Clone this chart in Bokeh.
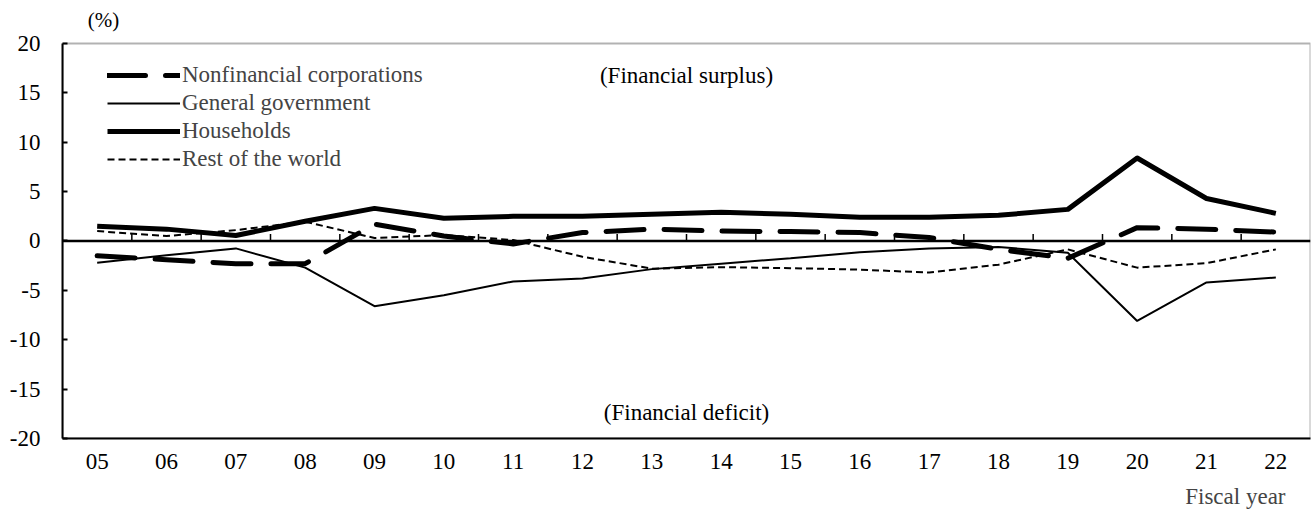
from bokeh.plotting import figure
from bokeh.models import (Range1d, FixedTicker, Legend, LegendItem, Label, Title, Span,
                          BoxAnnotation)
from bokeh.embed import file_html
from bokeh.resources import INLINE

years = ["05", "06", "07", "08", "09", "10", "11", "12", "13", "14",
         "15", "16", "17", "18", "19", "20", "21", "22"]
nonfin = [-1.5, -1.9, -2.3, -2.3, 1.7, 0.5, -0.3, 0.85, 1.2, 1.0,
          0.95, 0.85, 0.35, -0.85, -1.75, 1.35, 1.2, 0.9]
gov = [-2.2, -1.45, -0.75, -2.7, -6.6, -5.5, -4.1, -3.8, -2.85, -2.3,
       -1.75, -1.15, -0.75, -0.6, -1.2, -8.1, -4.2, -3.7]
hh = [1.5, 1.2, 0.55, 2.0, 3.3, 2.3, 2.5, 2.5, 2.7, 2.9,
      2.7, 2.4, 2.4, 2.6, 3.2, 8.4, 4.3, 2.8]
row = [1.0, 0.5, 1.1, 1.95, 0.3, 0.6, 0.1, -1.6, -2.8, -2.65,
       -2.75, -2.9, -3.2, -2.4, -0.85, -2.7, -2.25, -0.85]
y_ticks = [-20, -15, -10, -5, 0, 5, 10, 15, 20]

FONT = "Liberation Serif"
FS = "23px"

n = len(years)
x = list(range(n))
Y_MIN, Y_MAX = -20, 20
Y_TOP_PAD = 4.35  # extra room above the box for the "(%)" unit text

p = figure(width=1312, height=518, output_backend="svg", toolbar_location=None,
           title=None,
           x_range=Range1d(-0.5, n - 0.5), y_range=Range1d(Y_MIN, Y_MAX + Y_TOP_PAD),
           min_border_left=62, min_border_right=2, min_border_top=0,
           min_border_bottom=80)
p.xgrid.visible = False
p.ygrid.visible = False
p.outline_line_color = None
p.background_fill_color = "white"

# chart box
p.add_layout(BoxAnnotation(left=-0.5, right=n - 0.5, bottom=Y_MIN, top=Y_MAX,
                           fill_color=None, line_color="black", line_width=2))

# x axis (bottom)
xa = p.xaxis[0]
xa.ticker = FixedTicker(ticks=x)
xa.major_label_overrides = {i: years[i] for i in x}
xa.major_tick_line_color = None
xa.minor_tick_line_color = None
xa.major_label_standoff = 9
xa.major_label_text_font = FONT
xa.major_label_text_font_size = FS
xa.major_label_text_color = "black"
xa.axis_line_color = "black"
xa.axis_line_width = 2

# y axis
ya = p.yaxis[0]
ya.bounds = (Y_MIN, Y_MAX)
ya.ticker = FixedTicker(ticks=y_ticks)
ya.major_label_overrides = {t: str(t) for t in y_ticks}
ya.major_tick_in = 5
ya.major_tick_out = 0
ya.major_tick_line_width = 2
ya.major_tick_line_color = "black"
ya.minor_tick_line_color = None
ya.major_label_standoff = 22
ya.major_label_text_font = FONT
ya.major_label_text_font_size = FS
ya.major_label_text_color = "black"
ya.axis_line_color = "black"
ya.axis_line_width = 2

# zero line with category separator ticks
p.add_layout(Span(location=0, dimension="width", line_color="black", line_width=2.5))
bounds = [i + 0.5 for i in range(n - 1)]
p.segment(x0=bounds, y0=[0] * len(bounds), x1=bounds, y1=[0.7] * len(bounds),
          line_color="black", line_width=1.5)

r_row = p.line(x, row, line_color="black", line_width=2, line_dash="7 4")
r_gov = p.line(x, gov, line_color="black", line_width=2)
r_hh = p.line(x, hh, line_color="black", line_width=5, line_join="round")
r_nf = p.line(x, nonfin, line_color="black", line_width=5, line_dash="38 20",
              line_cap="round", line_join="round")

legend = Legend(items=[
    LegendItem(label="Nonfinancial corporations", renderers=[r_nf]),
    LegendItem(label="General government", renderers=[r_gov]),
    LegendItem(label="Households", renderers=[r_hh]),
    LegendItem(label="Rest of the world", renderers=[r_row]),
], location=(45, 265), glyph_width=73, glyph_height=28, spacing=0,
    padding=0, margin=0, border_line_color=None, background_fill_alpha=0,
    label_text_font=FONT, label_text_font_size=FS, label_standoff=2,
    label_height=28)
p.add_layout(legend)

for txt, lx, ly, fs in [("(Financial surplus)", 8.5, 16.8, FS),
                        ("(Financial deficit)", 8.5, -17.4, FS),
                        ("(%)", 0.09, 22.4, "21px")]:
    p.add_layout(Label(x=lx, y=ly, text=txt, text_align="center", text_baseline="middle",
                       text_font=FONT, text_font_size=fs, text_color="black"))

fy = Title(text="Fiscal year", align="right", offset=25, text_font=FONT,
           text_font_size=FS, text_font_style="normal", standoff=20)
p.add_layout(fy, "below")

open("out.html", "w").write(file_html(p, INLINE))
